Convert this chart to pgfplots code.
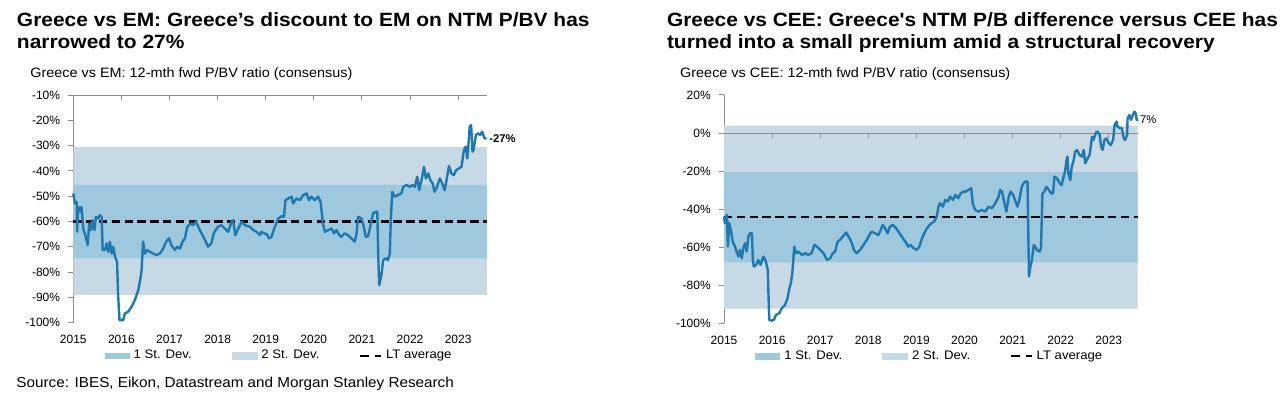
\documentclass[border=0pt]{standalone}
\usepackage{fontspec}
\setmainfont{Liberation Sans}
\newfontfamily\titlefont[FakeStretch=1.09]{Liberation Sans}
\newfontfamily\subfont[FakeStretch=1.06]{Liberation Sans}
\usepackage{pgfplots}
\pgfplotsset{compat=1.18}
\definecolor{lineblue}{HTML}{1F78B0}
\definecolor{sdone}{HTML}{9DC8DD}
\definecolor{sdtwo}{HTML}{C6D9E4}
\definecolor{axgray}{HTML}{8C8C8C}

\pgfplotsset{
  mystyle/.style={
    scale only axis, width=206.85pt,
    xmin=2015, xmax=2023.6,
    axis x line=bottom, axis y line=left,
    x axis line style={draw=none},
    y axis line style={draw=axgray,-},
    xtick={2015,2016,2017,2018,2019,2020,2021,2022,2023},
    xticklabel style={/pgf/number format/1000 sep={}, yshift=-0.4pt},
    xtick style={draw=none},
    ytick style={draw=axgray, line width=0.5pt},
    tick align=outside, major tick length=2.5pt,
    tick label style={font=\fontsize{6}{6}\selectfont},
    /pgf/number format/assume math mode=true,
    yticklabel={\pgfmathprintnumber{\tick}\%},
    yticklabel style={xshift=-0.6pt},
    clip=false,
    legend columns=3,
    legend style={draw=none, fill=none, font=\fontsize{6.2}{7}\subfont,
      anchor=center, inner sep=0pt,
      /tikz/every even column/.append style={column sep=18pt}},
    legend cell align=left,
  },
}

\begin{document}
\begin{tikzpicture}
\useasboundingbox (0,0) rectangle (640pt,197.5pt);

% Titles
\node[anchor=base west, inner sep=0pt, font=\fontsize{9.6}{11}\titlefont\bfseries] at (8.3pt,184.2pt) {Greece vs EM: Greece’s discount to EM on NTM P/BV has};
\node[anchor=base west, inner sep=0pt, font=\fontsize{9.6}{11}\titlefont\bfseries] at (8.3pt,173pt) {narrowed to 27\%};
\node[anchor=base west, inner sep=0pt, font=\fontsize{6.8}{7}\subfont] at (15pt,158.7pt) {Greece vs EM: 12-mth fwd P/BV ratio (consensus)};

\node[anchor=base west, inner sep=0pt, font=\fontsize{9.6}{11}\titlefont\bfseries] at (333.3pt,184.2pt) {Greece vs CEE: Greece's NTM P/B difference versus CEE has};
\node[anchor=base west, inner sep=0pt, font=\fontsize{9.6}{11}\titlefont\bfseries] at (333.3pt,173pt) {turned into a small premium amid a structural recovery};
\node[anchor=base west, inner sep=0pt, font=\fontsize{6.8}{7}\subfont] at (339.9pt,158.7pt) {Greece vs CEE: 12-mth fwd P/BV ratio (consensus)};

\node[anchor=base west, inner sep=0pt, font=\fontsize{7.2}{7}\subfont] at (8pt,3.5pt) {Source: IBES, Eikon, Datastream and Morgan Stanley Research};

% ---------------- Left chart ----------------
\begin{axis}[mystyle, at={(36.65pt,36.2pt)}, anchor=south west, height=113.8pt,
  ymin=-100, ymax=-10, ytick={-100,-90,-80,-70,-60,-50,-40,-30,-20,-10},
  legend style={at={(0.5,-0.147)}}]
\addplot[draw=none, fill=sdtwo, forget plot] coordinates {(2015,-30.6)(2023.6,-30.6)(2023.6,-89)(2015,-89)(2015,-30.6)};
\addplot[draw=none, fill=sdone, legend image code/.code={\fill[sdone] (0pt,-1.6pt) rectangle (12.5pt,1.6pt);}] coordinates {(2015,-45.5)(2023.6,-45.5)(2023.6,-74.5)(2015,-74.5)(2015,-45.5)};
\addlegendentry{1 St. Dev.}
\addlegendimage{legend image code/.code={\fill[sdtwo] (0pt,-1.6pt) rectangle (12.5pt,1.6pt);}}
\addlegendentry{2 St. Dev.}
\addplot[black, line width=1.1pt, dash pattern=on 4.2pt off 2.2pt, legend image code/.code={\draw[black, line width=1pt] (0pt,0pt) -- (5.5pt,0pt) (7.3pt,0pt) -- (10.3pt,0pt);}] coordinates {(2015,-60)(2023.6,-60)};
\addlegendentry{LT average}
\draw[axgray, line width=0.5pt] (axis cs:2015,-10) -- (axis cs:2023.6,-10);
\draw[axgray, line width=0.5pt] (axis cs:2016,-10) -- ([yshift=-2.5pt]axis cs:2016,-10);
\draw[axgray, line width=0.5pt] (axis cs:2017,-10) -- ([yshift=-2.5pt]axis cs:2017,-10);
\draw[axgray, line width=0.5pt] (axis cs:2018,-10) -- ([yshift=-2.5pt]axis cs:2018,-10);
\draw[axgray, line width=0.5pt] (axis cs:2019,-10) -- ([yshift=-2.5pt]axis cs:2019,-10);
\draw[axgray, line width=0.5pt] (axis cs:2020,-10) -- ([yshift=-2.5pt]axis cs:2020,-10);
\draw[axgray, line width=0.5pt] (axis cs:2021,-10) -- ([yshift=-2.5pt]axis cs:2021,-10);
\draw[axgray, line width=0.5pt] (axis cs:2022,-10) -- ([yshift=-2.5pt]axis cs:2022,-10);
\draw[axgray, line width=0.5pt] (axis cs:2023,-10) -- ([yshift=-2.5pt]axis cs:2023,-10);
\addplot[lineblue, line width=1.2pt, line join=round, forget plot] coordinates {
(2015.00,-48.9)(2015.035,-52.9)(2015.07,-52.2)(2015.08,-64.1)(2015.10,-54.2)(2015.15,-56.2)(2015.17,-54.2)(2015.21,-63.4)(2015.24,-64.7)(2015.30,-69.4)(2015.33,-60.8)(2015.37,-63.4)(2015.40,-59.5)(2015.44,-63.4)(2015.47,-58.2)(2015.52,-58.8)(2015.55,-57.5)(2015.59,-58.2)(2015.61,-71.3)(2015.66,-71.3)(2015.69,-68.7)(2015.73,-72.0)(2015.76,-68.0)(2015.80,-72.7)(2015.83,-70.0)(2015.87,-74.0)(2015.91,-76.0)(2015.93,-88.5)(2015.96,-99.0)(2016.04,-99.0)(2016.07,-96.4)(2016.14,-95.7)(2016.21,-93.8)(2016.28,-91.1)(2016.35,-87.2)(2016.39,-83.2)(2016.42,-79.3)(2016.45,-68.0)(2016.49,-72.7)(2016.54,-71.3)(2016.59,-72.0)(2016.66,-72.7)(2016.73,-73.3)(2016.80,-72.7)(2016.87,-70.7)(2016.93,-68.0)(2016.99,-66.7)(2017.04,-69.4)(2017.11,-71.3)(2017.16,-70.0)(2017.22,-70.7)(2017.27,-68.0)(2017.32,-66.7)(2017.37,-62.1)(2017.44,-60.8)(2017.49,-61.5)(2017.55,-60.1)(2017.63,-63.4)(2017.74,-67.4)(2017.80,-70.0)(2017.87,-68.7)(2017.92,-64.7)(2017.96,-63.4)(2018.01,-62.1)(2018.08,-61.5)(2018.15,-62.8)(2018.22,-64.1)(2018.29,-60.1)(2018.32,-59.5)(2018.37,-65.4)(2018.43,-62.8)(2018.50,-60.1)(2018.57,-61.5)(2018.67,-62.1)(2018.74,-63.4)(2018.81,-64.1)(2018.88,-65.4)(2018.91,-64.1)(2018.96,-64.7)(2019.02,-65.0)(2019.07,-66.7)(2019.12,-66.1)(2019.19,-62.1)(2019.26,-58.8)(2019.33,-57.9)(2019.38,-58.2)(2019.41,-51.6)(2019.47,-50.9)(2019.54,-50.2)(2019.57,-52.9)(2019.64,-50.9)(2019.71,-51.6)(2019.78,-49.6)(2019.85,-48.9)(2019.90,-51.6)(2019.95,-50.2)(2020.02,-51.6)(2020.09,-50.2)(2020.14,-52.2)(2020.19,-60.8)(2020.23,-64.1)(2020.30,-63.4)(2020.37,-62.8)(2020.42,-64.7)(2020.47,-63.4)(2020.53,-65.4)(2020.57,-66.1)(2020.64,-64.7)(2020.71,-65.4)(2020.78,-66.7)(2020.85,-68.0)(2020.89,-64.7)(2020.92,-58.2)(2020.99,-58.8)(2021.04,-62.1)(2021.08,-66.1)(2021.13,-65.8)(2021.18,-61.5)(2021.23,-56.8)(2021.29,-56.2)(2021.32,-56.2)(2021.34,-74.0)(2021.36,-85.2)(2021.41,-80.6)(2021.44,-75.3)(2021.50,-74.6)(2021.54,-75.3)(2021.58,-72.7)(2021.60,-59.5)(2021.63,-48.3)(2021.68,-50.2)(2021.75,-49.6)(2021.82,-48.9)(2021.86,-46.3)(2021.93,-45.6)(2022.00,-46.3)(2022.05,-45.6)(2022.10,-46.3)(2022.15,-42.3)(2022.19,-47.6)(2022.24,-43.6)(2022.29,-38.4)(2022.33,-43.0)(2022.38,-41.0)(2022.42,-43.6)(2022.47,-45.0)(2022.51,-48.3)(2022.56,-46.3)(2022.62,-43.0)(2022.67,-45.0)(2022.72,-47.6)(2022.76,-43.6)(2022.81,-38.1)(2022.86,-41.0)(2022.91,-41.7)(2022.96,-39.7)(2023.02,-39.0)(2023.07,-38.4)(2023.12,-31.8)(2023.16,-30.4)(2023.19,-35.1)(2023.21,-31.1)(2023.24,-22.5)(2023.27,-21.9)(2023.30,-32.4)(2023.32,-31.8)(2023.37,-25.8)(2023.41,-25.2)(2023.46,-25.8)(2023.50,-24.5)(2023.55,-27.2)(2023.59,-27.2)};
\node[anchor=west, inner sep=1pt, font=\fontsize{5.6}{6}\bfseries\selectfont] at (axis cs:2023.6,-27.2) {-27\%};
\end{axis}

% ---------------- Right chart ----------------
\begin{axis}[mystyle, at={(362pt,35.85pt)}, anchor=south west, height=114.15pt,
  ymin=-100, ymax=20, ytick={-100,-80,-60,-40,-20,0,20},
  legend style={at={(0.5,-0.145)}}]
\addplot[draw=none, fill=sdtwo, forget plot] coordinates {(2015,3.9)(2023.6,3.9)(2023.6,-92.3)(2015,-92.3)(2015,3.9)};
\addplot[draw=none, fill=sdone, legend image code/.code={\fill[sdone] (0pt,-1.6pt) rectangle (12.5pt,1.6pt);}] coordinates {(2015,-20.5)(2023.6,-20.5)(2023.6,-68)(2015,-68)(2015,-20.5)};
\addlegendentry{1 St. Dev.}
\addlegendimage{legend image code/.code={\fill[sdtwo] (0pt,-1.6pt) rectangle (12.5pt,1.6pt);}}
\addlegendentry{2 St. Dev.}
\addplot[black, line width=1.1pt, dash pattern=on 4.2pt off 2.2pt, legend image code/.code={\draw[black, line width=1pt] (0pt,0pt) -- (5.5pt,0pt) (7.3pt,0pt) -- (10.3pt,0pt);}] coordinates {(2015,-44.3)(2023.6,-44.3)};
\addlegendentry{LT average}
\draw[axgray, line width=0.5pt] (axis cs:2015,0) -- (axis cs:2023.6,0);
\draw[axgray, line width=0.5pt] (axis cs:2016,0) -- ([yshift=-2.5pt]axis cs:2016,0);
\draw[axgray, line width=0.5pt] (axis cs:2017,0) -- ([yshift=-2.5pt]axis cs:2017,0);
\draw[axgray, line width=0.5pt] (axis cs:2018,0) -- ([yshift=-2.5pt]axis cs:2018,0);
\draw[axgray, line width=0.5pt] (axis cs:2019,0) -- ([yshift=-2.5pt]axis cs:2019,0);
\draw[axgray, line width=0.5pt] (axis cs:2020,0) -- ([yshift=-2.5pt]axis cs:2020,0);
\draw[axgray, line width=0.5pt] (axis cs:2021,0) -- ([yshift=-2.5pt]axis cs:2021,0);
\draw[axgray, line width=0.5pt] (axis cs:2022,0) -- ([yshift=-2.5pt]axis cs:2022,0);
\draw[axgray, line width=0.5pt] (axis cs:2023,0) -- ([yshift=-2.5pt]axis cs:2023,0);
\addplot[lineblue, line width=1.2pt, line join=round, forget plot] coordinates {
(2015.00,-43.9)(2015.02,-47.4)(2015.06,-43.0)(2015.08,-59.7)(2015.11,-47.4)(2015.15,-51.8)(2015.18,-57.1)(2015.23,-59.7)(2015.26,-62.3)(2015.30,-64.9)(2015.33,-61.4)(2015.37,-65.8)(2015.40,-60.5)(2015.44,-57.9)(2015.47,-62.3)(2015.51,-54.4)(2015.54,-52.7)(2015.58,-52.7)(2015.60,-66.7)(2015.62,-70.2)(2015.67,-69.3)(2015.71,-66.7)(2015.76,-69.3)(2015.82,-64.9)(2015.87,-67.5)(2015.91,-71.9)(2015.94,-98.2)(2015.99,-98.6)(2016.04,-98.2)(2016.08,-95.6)(2016.15,-94.7)(2016.20,-92.1)(2016.27,-90.3)(2016.32,-86.8)(2016.36,-81.6)(2016.39,-78.9)(2016.42,-73.7)(2016.46,-59.7)(2016.50,-63.2)(2016.55,-62.3)(2016.62,-64.1)(2016.69,-63.2)(2016.75,-64.1)(2016.82,-63.2)(2016.88,-58.8)(2016.93,-59.7)(2017.00,-61.4)(2017.07,-63.2)(2017.14,-66.7)(2017.21,-65.8)(2017.26,-63.2)(2017.31,-62.3)(2017.36,-57.1)(2017.41,-56.2)(2017.47,-54.4)(2017.54,-52.3)(2017.61,-55.3)(2017.66,-57.9)(2017.70,-61.4)(2017.76,-63.2)(2017.83,-61.4)(2017.90,-58.8)(2017.97,-56.2)(2018.02,-53.6)(2018.07,-51.8)(2018.14,-52.7)(2018.21,-53.6)(2018.26,-50.9)(2018.30,-48.3)(2018.35,-50.1)(2018.40,-52.7)(2018.45,-49.2)(2018.51,-48.3)(2018.58,-50.1)(2018.65,-52.7)(2018.72,-55.3)(2018.79,-57.9)(2018.83,-59.7)(2018.88,-58.8)(2018.94,-60.5)(2019.01,-61.4)(2019.06,-59.7)(2019.13,-54.4)(2019.20,-50.9)(2019.27,-48.3)(2019.32,-47.4)(2019.37,-46.5)(2019.42,-43.9)(2019.46,-38.7)(2019.49,-36.9)(2019.55,-38.7)(2019.60,-35.2)(2019.65,-36.0)(2019.70,-33.4)(2019.76,-35.2)(2019.81,-32.5)(2019.87,-34.3)(2019.92,-31.7)(2019.98,-30.8)(2020.03,-30.8)(2020.08,-29.9)(2020.14,-29.0)(2020.17,-36.9)(2020.22,-40.4)(2020.29,-41.3)(2020.36,-40.4)(2020.43,-41.3)(2020.50,-38.7)(2020.57,-39.5)(2020.64,-36.9)(2020.71,-33.4)(2020.74,-29.9)(2020.78,-30.8)(2020.83,-36.9)(2020.87,-41.3)(2020.92,-33.4)(2020.96,-30.8)(2021.01,-32.5)(2021.05,-35.2)(2021.10,-38.7)(2021.14,-35.2)(2021.19,-28.2)(2021.23,-26.4)(2021.26,-25.5)(2021.31,-25.5)(2021.34,-75.4)(2021.37,-70.2)(2021.40,-66.7)(2021.44,-58.8)(2021.47,-59.7)(2021.50,-61.4)(2021.56,-62.3)(2021.59,-60.5)(2021.62,-31.7)(2021.66,-30.8)(2021.70,-28.2)(2021.75,-29.9)(2021.80,-31.7)(2021.84,-31.7)(2021.87,-22.9)(2021.92,-23.8)(2021.98,-26.4)(2022.02,-27.3)(2022.06,-22.9)(2022.09,-20.3)(2022.12,-14.2)(2022.14,-12.4)(2022.16,-21.2)(2022.20,-24.7)(2022.23,-17.7)(2022.27,-14.2)(2022.30,-9.8)(2022.34,-8.9)(2022.39,-11.5)(2022.44,-12.4)(2022.48,-8.9)(2022.51,-15.9)(2022.56,-13.3)(2022.60,-11.5)(2022.63,-6.3)(2022.65,-1.9)(2022.68,-3.6)(2022.74,0.7)(2022.77,0.7)(2022.81,-1.0)(2022.84,-7.1)(2022.87,-8.9)(2022.91,-3.6)(2022.95,-2.8)(2023.00,-5.4)(2023.04,-6.3)(2023.09,-3.6)(2023.12,4.2)(2023.16,6.0)(2023.18,3.4)(2023.23,2.5)(2023.27,2.5)(2023.31,-2.8)(2023.34,-3.6)(2023.38,-1.0)(2023.39,7.7)(2023.43,9.5)(2023.46,6.9)(2023.50,9.5)(2023.53,11.2)(2023.56,10.4)(2023.58,6.9)(2023.61,7.2)};
\node[anchor=west, inner sep=1pt, font=\fontsize{5.6}{6}\selectfont] at (axis cs:2023.6,7.2) {7\%};
\end{axis}
\end{tikzpicture}
\end{document}
